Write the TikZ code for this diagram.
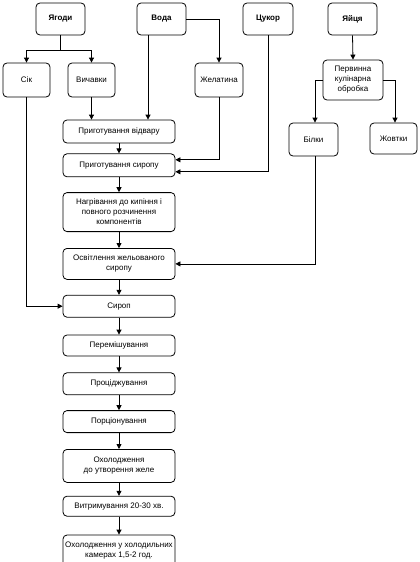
\documentclass[tikz,border=0pt]{standalone}
\usepackage{fontspec}
\setmainfont{Liberation Sans}
\usetikzlibrary{arrows.meta,positioning}

\begin{document}
\begin{tikzpicture}[x=1pt,y=-1pt,font=\fontsize{8}{10}\selectfont,line width=0.8pt,
    stage/.style={draw,rounded corners=4pt,align=center,inner sep=1pt,minimum width=112pt},
    src/.style={draw,rounded corners=4pt,align=center,inner sep=1pt,minimum width=49pt,minimum height=32pt},
    flow/.style={-{Triangle[width=5pt,length=5pt]}}]
  \useasboundingbox (0,0) rectangle (420,562);
  % raw materials
  \node[src,font=\fontsize{8}{10}\selectfont\bfseries] (yagody) at (60.5,19) {Ягоди};
  \node[src,font=\fontsize{8}{10}\selectfont\bfseries] (voda) at (161.5,19) {Вода};
  \node[src,font=\fontsize{8}{10}\selectfont\bfseries,minimum width=50pt] (tsukor) at (268,19) {Цукор};
  \node[src,font=\fontsize{8}{10}\selectfont\bfseries] (yaitsia) at (352.5,19) {Яйця};
  \node[src,minimum width=47pt,minimum height=34pt] (sik) at (26.5,80) {Сік};
  \node[src,minimum width=47pt,minimum height=34pt] (vychavky) at (91.5,80) {Вичавки};
  \node[src,minimum width=48pt,minimum height=34pt] (zhelatyna) at (219,80) {Желатина};
  \node[src,minimum width=60pt,minimum height=40pt] (obrobka) at (353,80) {Первинна\\кулінарна\\обробка};
  \node[src,minimum height=33pt] (bilky) at (313.5,139.5) {Білки};
  \node[src,minimum width=47pt,minimum height=31pt] (zhovtky) at (393.5,138.5) {Жовтки};
  % main line
  \node[stage,minimum height=23pt] (vidvar) at (119,131.5) {Приготування відвару};
  \node[stage,minimum height=23pt,below=10pt of vidvar] (prep) {Приготування сиропу};
  \node[stage,minimum height=39pt,below=15pt of prep] (nagriv) {Нагрівання до кипіння і\\повного розчинення\\компонентів};
  \node[stage,minimum height=31pt,below=16pt of nagriv] (osvit) {Освітлення жельованого\\сиропу};
  \node[stage,minimum height=22pt,below=15pt of osvit] (syrop) {Сироп};
  \node[stage,minimum height=21pt,below=17pt of syrop] (peremish) {Перемішування};
  \node[stage,minimum height=22pt,below=16pt of peremish] (protsidzh) {Проціджування};
  \node[stage,minimum height=22pt,below=15pt of protsidzh] (portsion) {Порціонування};
  \node[stage,minimum height=33pt,below=16pt of portsion] (okholod) {Охолодження\\до утворення желе};
  \node[stage,minimum height=20pt,below=13pt of okholod] (vytrym) {Витримування 20-30 хв.};
  \node[stage,minimum height=31pt,below=18pt of vytrym] (kamery) {Охолодження у холодильних\\камерах 1,5-2 год.};

  \draw[flow] (yagody.south) -- ++(0,15) -| (sik.north);
  \draw[flow] (yagody.south) -- ++(0,15) -| (vychavky.north);
  \draw[flow] (vychavky.south) -- (vychavky.south |- vidvar.north);
  \draw[flow] ([xshift=-13.5pt]voda.south) -- ([xshift=-13.5pt]voda.south |- vidvar.north);
  \draw[flow] (voda.east) -| (zhelatyna.north);
  \draw[flow] (zhelatyna.south) |- ([yshift=5.5pt]prep.east);
  \draw[flow] (tsukor.south) |- ([yshift=-6.5pt]prep.east);
  \draw[flow] (yaitsia.south) -- (obrobka.north);
  \draw[flow] (obrobka.west) -| ([xshift=1.5pt]bilky.north);
  \draw[flow] (obrobka.east) -| ([xshift=1.5pt]zhovtky.north);
  \draw[flow] ([xshift=1.5pt]bilky.south) |- (osvit.east);
  \draw[flow] (sik.south) |- (syrop.west);
  \foreach \a/\b in {vidvar/prep,prep/nagriv,nagriv/osvit,osvit/syrop,syrop/peremish,peremish/protsidzh,protsidzh/portsion,portsion/okholod,okholod/vytrym,vytrym/kamery}
    \draw[flow] (\a) -- (\b);
\end{tikzpicture}
\end{document}
